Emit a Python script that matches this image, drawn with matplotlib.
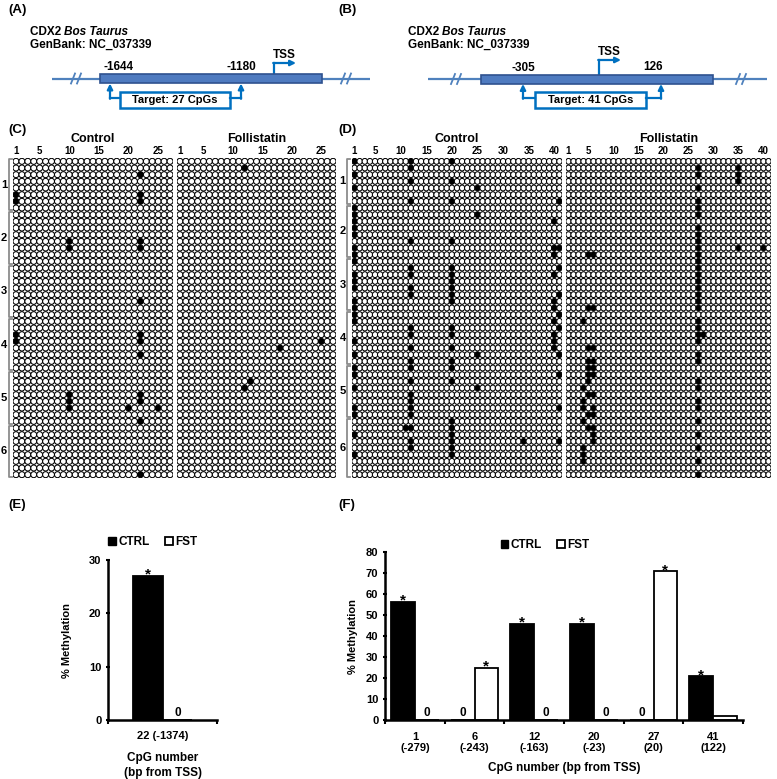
import numpy as np
import matplotlib.pyplot as plt
from matplotlib.collections import EllipseCollection
from matplotlib.patches import Rectangle, Patch

plt.rcParams['font.family'] = ['Liberation Sans', 'DejaVu Sans']
plt.rcParams['font.weight'] = 'bold'
plt.rcParams['axes.labelweight'] = 'bold'

W, H = 777, 779

# methylated CpGs: column (CpG number) -> clone rows (1..48)
c_ctrl_dots = {1: [6, 7, 27, 28], 10: [13, 14, 36, 37, 38], 20: [38],
               22: [3, 6, 7, 13, 14, 22, 27, 28, 30, 36, 37, 40, 48], 25: [38]}
c_fst_dots = {12: [2, 35], 13: [34], 18: [29], 25: [28]}
d_ctrl_dots = {1: [1, 3, 5, 8, 9, 10, 11, 12, 14, 15, 16, 18, 19, 20, 22, 23, 24, 25,
                   28, 30, 32, 33, 35, 38, 39, 42, 45],
               11: [41],
               12: [1, 2, 4, 7, 13, 17, 18, 20, 21, 26, 27, 29, 31, 32, 34, 36, 37, 38,
                    39, 41, 43, 44],
               20: [1, 4, 7, 13, 17, 18, 19, 20, 21, 22, 26, 27, 29, 31, 32, 34, 40, 41,
                    42, 43, 44, 45],
               25: [5, 9, 30, 35],
               34: [43],
               40: [10, 14, 15, 18, 22, 23, 25, 27, 28, 29],
               41: [7, 14, 17, 21, 24, 26, 30, 33, 38, 43]}
d_fst_dots = {4: [25, 35, 37, 38, 40, 44, 45, 46],
              5: [15, 23, 29, 31, 32, 33, 34, 36, 39, 41],
              6: [15, 23, 29, 31, 32, 33, 36, 38, 39, 41, 42, 43],
              27: [2, 3, 5, 7, 8, 9, 11, 12, 13, 14, 15, 16, 17, 18, 19, 20, 21, 22, 23,
                   25, 26, 27, 28, 30, 31, 34, 35, 37, 38, 40, 42, 44, 46, 48],
              28: [27],
              35: [2, 3, 4, 14],
              40: [14]}
c_groups = [8, 8, 8, 8, 8, 8]
d_groups = [7, 8, 8, 8, 8, 9]

# bar charts
e_cpg = ['22 (-1374)']
e_ctrl = [27.08]
e_fst = [0]
e_ctrl_sig = [True]
e_fst_sig = [False]

f_cpg = ['1\n(-279)', '6\n(-243)', '12\n(-163)', '20\n(-23)', '27\n(20)', '41\n(122)']
f_ctrl = [56.25, 0, 45.83, 45.83, 0, 20.83]
f_fst = [0, 25.0, 0, 0, 70.83, 2.08]
f_ctrl_sig = [True, False, True, True, False, True]
f_fst_sig = [False, True, False, False, True, False]

LINE = '#4F81BD'
RECT = '#4F7BC0'
RECT_EDGE = '#2F528F'
ARR = '#0070C0'

fig = plt.figure(figsize=(W / 100, H / 100), dpi=100)


def px_axes(x0, y0, x1, y1):
    return fig.add_axes([x0 / W, 1 - y1 / H, (x1 - x0) / W, (y1 - y0) / H])


# overlay in pixel units for the schematics and panel letters
ov = px_axes(0, 0, W, H)
ov.set_xlim(0, W)
ov.set_ylim(H, 0)
ov.axis('off')

for lab, x, y in [('(A)', 8, 10), ('(B)', 338, 10), ('(C)', 8, 130), ('(D)', 338, 130),
                  ('(E)', 8, 505), ('(F)', 338, 505)]:
    ov.text(x, y, lab, fontsize=9.5, fontweight='bold', va='center', ha='left')


def gene_map(x0, x1, ly, breaks, rx0, rx1, pos_labels, tss_x, tss_top, tss_end,
             tx0, tx1, bx0, bx1, target, head_x):
    ov.text(head_x, 32, 'CDX2 ', fontsize=8.5, va='center', ha='left')
    ov.text(head_x + 34, 32, 'Bos Taurus', fontsize=8.5, va='center', ha='left',
            style='italic')
    ov.text(head_x, 45, 'GenBank: NC_037339', fontsize=8.5, va='center', ha='left')
    ov.plot([x0, x1], [ly, ly], color=LINE, lw=1.6, solid_capstyle='butt')
    for bx in breaks:
        ov.plot([bx - 2, bx - 2], [ly, ly], color='white', lw=4)
        ov.plot([bx - 5, bx - 1], [ly + 5, ly - 5], color=LINE, lw=1.3)
        ov.plot([bx + 1, bx + 5], [ly + 5, ly - 5], color=LINE, lw=1.3)
    ov.add_patch(Rectangle((rx0, ly - 4.5), rx1 - rx0, 9, facecolor=RECT,
                           edgecolor=RECT_EDGE, lw=1.2, zorder=3))
    for txt, x, y in pos_labels:
        ov.text(x, y, txt, fontsize=8.5, ha='center', va='center')
    ov.plot([tss_x, tss_x], [ly - 4.5, tss_top], color=ARR, lw=1.6)
    ov.annotate('', xy=(tss_end, tss_top), xytext=(tss_x - 0.8, tss_top),
                arrowprops=dict(arrowstyle='-|>', color=ARR, lw=1.6, mutation_scale=8,
                                shrinkA=0, shrinkB=0))
    ov.text(tss_x + 10, tss_top - 8, 'TSS', fontsize=8.5, ha='center', va='center')
    for ax_, bx_ in [(tx0, bx0), (tx1, bx1)]:
        ov.plot([bx_, ax_], [98, 98], color=ARR, lw=1.6)
        ov.annotate('', xy=(ax_, ly + 5), xytext=(ax_, 98.8),
                    arrowprops=dict(arrowstyle='-|>', color=ARR, lw=1.6,
                                    mutation_scale=8, shrinkA=0, shrinkB=0))
    ov.add_patch(Rectangle((bx0, 91.5), bx1 - bx0, 16, facecolor='white',
                           edgecolor=ARR, lw=1.8))
    ov.text((bx0 + bx1) / 2, 100, target, fontsize=8, ha='center', va='center')


gene_map(52, 370, 78.5, [76, 346], 100, 322, [('-1644', 118, 67), ('-1180', 241, 67)],
         274, 63, 296, 110, 241, 120, 230, 'Target: 27 CpGs', 30)
gene_map(428, 767, 79, [456, 741], 481, 713, [('-305', 523, 68), ('126', 653, 67)],
         599, 60, 621, 523, 661, 535, 646, 'Target: 41 CpGs', 408)


def dot_grid(box, ncol, nrow, dots, title, ticks, ew, eh):
    ax = px_axes(*box)
    ax.set_xlim(0.5, ncol + 0.5)
    ax.set_ylim(nrow + 0.5, 0.5)
    cc, rr = np.meshgrid(np.arange(1, ncol + 1), np.arange(1, nrow + 1))
    cc, rr = cc.ravel(), rr.ravel()
    filled = {(c, r) for c, rows in dots.items() for r in rows}
    fc = ['black' if (c, r) in filled else 'white' for c, r in zip(cc, rr)]
    coll = EllipseCollection(ew, eh, 0, units='xy', offsets=np.column_stack([cc, rr]),
                             offset_transform=ax.transData, facecolors=fc,
                             edgecolors='black', linewidths=0.75)
    ax.add_collection(coll)
    ax.set_xticks(ticks)
    ax.xaxis.tick_top()
    ax.tick_params(axis='x', length=0, pad=1.5, labelsize=7)
    ax.set_yticks([])
    for s in ax.spines.values():
        s.set_visible(False)
    ax.text(0.5, 1 + 19 / (box[3] - box[1]), title, transform=ax.transAxes,
            fontsize=9, ha='center', va='center')
    return ax


def brackets(ax, groups, xb, xt, xl):
    start = 1
    for i, n in enumerate(groups):
        end = start + n - 1
        ax.plot([xt, xb, xb, xt], [start - 0.35, start - 0.35, end + 0.35, end + 0.35],
                color='#8c8c8c', lw=1.3, clip_on=False)
        ax.text(xl, (start + end) / 2, str(i + 1), fontsize=8, ha='center', va='center')
        start = end + 1


c_ticks = [1, 5, 10, 15, 20, 25]
d_ticks = [1, 5, 10, 15, 20, 25, 30, 35, 40]
ax_cc = dot_grid((13, 158, 173, 478), 27, 48, c_ctrl_dots, 'Control', c_ticks, 1.0, 0.9)
ax_cf = dot_grid((177, 158, 336, 478), 27, 48, c_fst_dots, 'Follistatin', c_ticks, 1.0, 0.9)
ax_dc = dot_grid((352, 158, 562, 478), 41, 48, d_ctrl_dots, 'Control', d_ticks, 1.05, 0.88)
ax_df = dot_grid((566, 158, 771, 478), 41, 48, d_fst_dots, 'Follistatin', d_ticks, 1.05, 0.88)
brackets(ax_cc, c_groups, -0.2, 0.3, -1.05)
brackets(ax_dc, d_groups, -0.45, 0.2, -1.3)


def bar_panel(box, cats, ctrl, fst, ctrl_sig, fst_sig, ymax, ystep, width, leg_xy,
              xlabel, ylabpad, xlabpad, xpad):
    ax = px_axes(*box)
    n = len(cats)
    x = np.arange(n) + 0.5
    ax.bar(x - width / 2, ctrl, width, color='black', edgecolor='black', lw=1.3)
    ax.bar(x + width / 2, fst, width, color='white', edgecolor='black', lw=1.3)
    for xs, vals, sig in [(x - width / 2, ctrl, ctrl_sig), (x + width / 2, fst, fst_sig)]:
        for xi, v, s in zip(xs, vals, sig):
            if s:
                ax.annotate('*', (xi, v), xytext=(0, -2), textcoords='offset points',
                            ha='center', va='baseline', fontsize=11)
            elif v == 0:
                ax.annotate('0', (xi, 0), xytext=(0, 1), textcoords='offset points',
                            ha='center', va='bottom', fontsize=8.5)
    ax.set_xlim(0, n)
    ax.set_ylim(0, ymax)
    ax.set_yticks(np.arange(0, ymax + 1, ystep))
    ax.set_xticks(x)
    ax.set_xticklabels(cats, fontsize=8, linespacing=1.2)
    ax.set_xticks(np.arange(0, n + 1), minor=True)
    ax.tick_params(axis='x', which='major', length=0, pad=xpad)
    ax.tick_params(axis='x', which='minor', length=3, width=1.5, direction='out')
    ax.tick_params(axis='y', length=3.5, width=1.5, direction='inout', labelsize=8, pad=3)
    for s in ['top', 'right']:
        ax.spines[s].set_visible(False)
    for s in ['left', 'bottom']:
        ax.spines[s].set_linewidth(1.8)
    ax.set_ylabel('% Methylation', fontsize=8, labelpad=ylabpad)
    handles = [Patch(facecolor='black', edgecolor='black'),
               Patch(facecolor='white', edgecolor='black', lw=1.3)]
    ax.legend(handles, ['CTRL', 'FST'], ncol=2, frameon=False, loc='center',
              bbox_to_anchor=leg_xy, handlelength=0.65, handleheight=0.65,
              handletextpad=0.2, columnspacing=1.3, prop={'weight': 'bold', 'size': 8.5})
    ax.set_xlabel(xlabel, fontsize=8.5, labelpad=xlabpad, linespacing=1.35)
    return ax


bar_panel((108, 560, 217, 720), e_cpg, e_ctrl, e_fst, e_ctrl_sig, e_fst_sig, 30, 10,
          0.275, (0.41, 1.11), 'CpG number\n(bp from TSS)', 12, 8, 8)
bar_panel((385, 552, 743, 720), f_cpg, f_ctrl, f_fst, f_ctrl_sig, f_fst_sig, 80, 10,
          0.4, (0.447, 1.04), 'CpG number (bp from TSS)', 6, 6, 8.5)

fig.savefig('out.png', dpi=100)
